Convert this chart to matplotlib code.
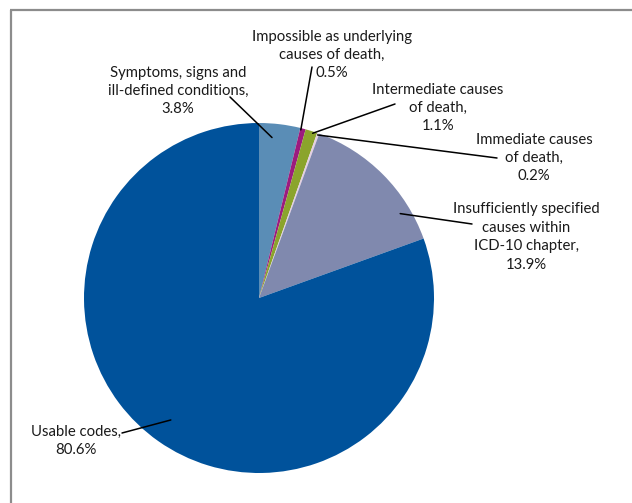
import numpy as np
import matplotlib
matplotlib.use('Agg')
import matplotlib.pyplot as plt

# slices, clockwise from 12 o'clock
labels = ['Symptoms, signs and\nill-defined conditions,\n3.8%',
          'Impossible as underlying\ncauses of death,\n0.5%',
          'Intermediate causes\nof death,\n1.1%',
          'Immediate causes\nof death,\n0.2%',
          'Insufficiently specified\ncauses within\nICD-10 chapter,\n13.9%',
          'Usable codes,\n80.6%']
values = [3.8, 0.5, 1.1, 0.2, 13.9, 80.6]
colors = ['#5a8db6', '#9c1b7e', '#8ba42c', '#e4cfe2', '#8089ae', '#00529b']

W, H = 632, 503
cx, cy, R = 259, 298, 175   # pie centre / radius in pixels (y from top)

# label layout (pixels, y from top)
text_pos = [(178, 91), (332, 55), (438, 108), (534, 158), (526, 237), (76, 441)]
leader_start = [(230, 97), (312, 67), (395, 104), (497, 158), (472, 224), (122, 433)]
leader_dang = [2.2, 0.6, -0.6, 0.0, -14.0, -0.8]   # shift from wedge mid angle
leader_rfrac = [0.92, 0.99, 0.99, 0.99, 0.94, 0.86]

def py(y):
    return H - y

plt.rcParams['font.family'] = ['Lato', 'DejaVu Sans']

fig = plt.figure(figsize=(W / 100, H / 100), dpi=100)
ax = fig.add_axes([0, 0, 1, 1])

wedges, _ = ax.pie(values, colors=colors, startangle=90, counterclock=False,
                   center=(cx, py(cy)), radius=R,
                   wedgeprops=dict(linewidth=0))

ax.set_xlim(0, W)
ax.set_ylim(0, H)
ax.set_aspect('equal')
ax.axis('off')

for w, lab, tp, ls, da, rf in zip(wedges, labels, text_pos, leader_start,
                                  leader_dang, leader_rfrac):
    ang = np.deg2rad((w.theta1 + w.theta2) / 2 + da)
    xy = (cx + rf * R * np.cos(ang), py(cy) + rf * R * np.sin(ang))
    ax.annotate('', xy=xy, xytext=(ls[0], py(ls[1])),
                arrowprops=dict(arrowstyle='-', color='black', lw=1.1,
                                shrinkA=0, shrinkB=0))
    ax.text(tp[0], py(tp[1]), lab, ha='center', va='center',
            fontsize=10.7, linespacing=1.4, color='#1a1a1a')

# grey frame (only left and top edges show in the crop)
ax.plot([11, 11], [py(9.5), 0], color='#8c8c8c', lw=1.6, clip_on=False,
        solid_capstyle='butt')
ax.plot([10, W], [py(9.5), py(9.5)], color='#8c8c8c', lw=1.6, clip_on=False,
        solid_capstyle='butt')

fig.savefig('out.png', dpi=100)
